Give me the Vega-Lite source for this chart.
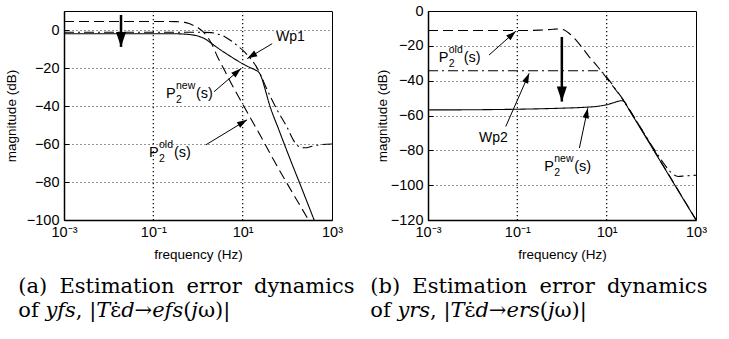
{
  "$schema": "https://vega.github.io/schema/vega-lite/v6.json",
  "background": "white",
  "padding": {"left": 3, "top": 2, "right": 5, "bottom": 0},
  "spacing": 96,
  "bounds": "flush",
  "datasets": {
    "curvesA": [
      {"s": "new", "f": 0.001, "db": -2.0}, {"s": "new", "f": 0.1, "db": -2.0}, {"s": "new", "f": 0.3162, "db": -2.0}, {"s": "new", "f": 0.5012, "db": -2.15}, {"s": "new", "f": 0.7079, "db": -2.5}, {"s": "new", "f": 1, "db": -3.2}, {"s": "new", "f": 1.413, "db": -4.6}, {"s": "new", "f": 2.042, "db": -7.2}, {"s": "new", "f": 3.162, "db": -10.4}, {"s": "new", "f": 4.898, "db": -13.3}, {"s": "new", "f": 7.079, "db": -15.7}, {"s": "new", "f": 10, "db": -17.8}, {"s": "new", "f": 14.13, "db": -19.6}, {"s": "new", "f": 19.05, "db": -21}, {"s": "new", "f": 23.44, "db": -22.5}, {"s": "new", "f": 26.92, "db": -25.5}, {"s": "new", "f": 31.62, "db": -31}, {"s": "new", "f": 38.9, "db": -38.5}, {"s": "new", "f": 64.57, "db": -52.5}, {"s": "new", "f": 120.2, "db": -69}, {"s": "new", "f": 199.5, "db": -82}, {"s": "new", "f": 398.1, "db": -100}, {"s": "new", "f": 501.2, "db": -106},
      {"s": "old", "f": 0.001, "db": 4.5}, {"s": "old", "f": 0.1, "db": 4.5}, {"s": "old", "f": 0.3162, "db": 4.4}, {"s": "old", "f": 0.5012, "db": 4.0}, {"s": "old", "f": 0.631, "db": 3.4}, {"s": "old", "f": 0.7943, "db": 2.4}, {"s": "old", "f": 1, "db": 1.2}, {"s": "old", "f": 1.259, "db": -0.6}, {"s": "old", "f": 1.479, "db": -2.4}, {"s": "old", "f": 1.995, "db": -7}, {"s": "old", "f": 2.661, "db": -13.5}, {"s": "old", "f": 3.981, "db": -21.5}, {"s": "old", "f": 5.754, "db": -28.8}, {"s": "old", "f": 10, "db": -39}, {"s": "old", "f": 15.49, "db": -47}, {"s": "old", "f": 26.92, "db": -57}, {"s": "old", "f": 45.71, "db": -67}, {"s": "old", "f": 100, "db": -81}, {"s": "old", "f": 199.5, "db": -93}, {"s": "old", "f": 316.2, "db": -101},
      {"s": "wp", "f": 0.001, "db": -1.2}, {"s": "wp", "f": 1, "db": -1.2}, {"s": "wp", "f": 1.995, "db": -1.4}, {"s": "wp", "f": 2.818, "db": -2.2}, {"s": "wp", "f": 3.981, "db": -3.5}, {"s": "wp", "f": 5.623, "db": -5.8}, {"s": "wp", "f": 7.943, "db": -8.6}, {"s": "wp", "f": 10, "db": -10.6}, {"s": "wp", "f": 12.59, "db": -13}, {"s": "wp", "f": 15.85, "db": -15.8}, {"s": "wp", "f": 19.95, "db": -19}, {"s": "wp", "f": 25.12, "db": -23.5}, {"s": "wp", "f": 33.11, "db": -30}, {"s": "wp", "f": 44.67, "db": -36.5}, {"s": "wp", "f": 58.88, "db": -42}, {"s": "wp", "f": 97.72, "db": -51}, {"s": "wp", "f": 141.3, "db": -58.5}, {"s": "wp", "f": 182, "db": -61.3}, {"s": "wp", "f": 251.2, "db": -62}, {"s": "wp", "f": 354.8, "db": -61.2}, {"s": "wp", "f": 562.3, "db": -60.3}, {"s": "wp", "f": 1000, "db": -60}
    ],
    "curvesB": [
      {"s": "new", "f": 0.001, "db": -56.8}, {"s": "new", "f": 0.01, "db": -56.7}, {"s": "new", "f": 0.1, "db": -56.4}, {"s": "new", "f": 1, "db": -55.8}, {"s": "new", "f": 3.162, "db": -55.3}, {"s": "new", "f": 6.31, "db": -54.7}, {"s": "new", "f": 10, "db": -53.8}, {"s": "new", "f": 14.13, "db": -52.7}, {"s": "new", "f": 17.78, "db": -51.9}, {"s": "new", "f": 21.38, "db": -51.5}, {"s": "new", "f": 24.55, "db": -51.9}, {"s": "new", "f": 27.54, "db": -54}, {"s": "new", "f": 39.81, "db": -60.8}, {"s": "new", "f": 100, "db": -77.7}, {"s": "new", "f": 316.2, "db": -98.9}, {"s": "new", "f": 1000, "db": -120},
      {"s": "old", "f": 0.001, "db": -11.2}, {"s": "old", "f": 0.1, "db": -11.2}, {"s": "old", "f": 0.3162, "db": -11.0}, {"s": "old", "f": 0.631, "db": -10.5}, {"s": "old", "f": 0.8913, "db": -10.3}, {"s": "old", "f": 1.122, "db": -10.9}, {"s": "old", "f": 1.413, "db": -12.6}, {"s": "old", "f": 1.995, "db": -16.3}, {"s": "old", "f": 2.818, "db": -21}, {"s": "old", "f": 3.981, "db": -26}, {"s": "old", "f": 6.31, "db": -32}, {"s": "old", "f": 10, "db": -38.5}, {"s": "old", "f": 15.85, "db": -45.2}, {"s": "old", "f": 22.39, "db": -50.3}, {"s": "old", "f": 28.18, "db": -54}, {"s": "old", "f": 39.81, "db": -60.3}, {"s": "old", "f": 100, "db": -77.3}, {"s": "old", "f": 316.2, "db": -98.6}, {"s": "old", "f": 1000, "db": -119.8},
      {"s": "wp", "f": 0.001, "db": -34.3}, {"s": "wp", "f": 6.31, "db": -34.3}, {"s": "wp", "f": 7.943, "db": -35.2}, {"s": "wp", "f": 10, "db": -38}, {"s": "wp", "f": 12.59, "db": -41.3}, {"s": "wp", "f": 15.85, "db": -45}, {"s": "wp", "f": 22.39, "db": -50.2}, {"s": "wp", "f": 31.62, "db": -56.5}, {"s": "wp", "f": 50.12, "db": -64.5}, {"s": "wp", "f": 79.43, "db": -72.8}, {"s": "wp", "f": 125.9, "db": -80.8}, {"s": "wp", "f": 199.5, "db": -88.3}, {"s": "wp", "f": 263, "db": -92.2}, {"s": "wp", "f": 316.2, "db": -94}, {"s": "wp", "f": 398.1, "db": -95}, {"s": "wp", "f": 562.3, "db": -94.7}, {"s": "wp", "f": 1000, "db": -94.3}
    ],
    "decades": [{"f": 0.1}, {"f": 10}],
    "arrowsA": [
      {"f": 45.7, "db": -7.2, "f2": 12.7, "db2": -15.0},
      {"f": 2.28, "db": -32.5, "f2": 9.16, "db2": -20.3},
      {"f": 1.51, "db": -60.4, "f2": 12.5, "db2": -47.3}
    ],
    "arrowsB": [
      {"f": 0.0232, "db": -25.3, "f2": 0.0925, "db2": -11.6},
      {"f": 0.0551, "db": -66.3, "f2": 0.184, "db2": -35.8},
      {"f": 2.45, "db": -78.7, "f2": 3.78, "db2": -55.8}
    ],
    "bigA": [{"f": 0.0189, "db": 7.9, "db2": -8.9}],
    "bigB": [{"f": 0.992, "db": -14.9, "db2": -52}],
    "labelsA": [
      {"f": 0.192, "db": -36, "sup": "new"},
      {"f": 0.080, "db": -67, "sup": "old"}
    ],
    "labelsB": [
      {"f": 0.00174, "db": -29.1, "sup": "old"},
      {"f": 0.401, "db": -92, "sup": "new"}
    ],
    "wpA": [{"f": 55.7, "db": -6, "t": "Wp1"}],
    "wpB": [{"f": 0.0138, "db": -75.2, "t": "Wp2"}]
  },
  "hconcat": [
    {
      "width": 268,
      "height": 209,
      "title": {"text": "(a)\u2004\u2005Estimation\u2004\u2005error\u2004\u2005dynamics", "subtitle": "of 𝑦𝑓𝑠, |𝑇ε̇𝑑→𝑒𝑓𝑠(𝑗ω)|", "dx": 14},
      "layer": [
        {
          "data": {"name": "decades"},
          "mark": {"type": "rule", "color": "#111111", "strokeWidth": 1.3, "strokeDash": [1.3, 2.7], "opacity": 1},
          "encoding": {
            "x": {"field": "f", "type": "quantitative", "title": "frequency (Hz)", "scale": {"type": "log", "domain": [0.001, 1000], "nice": false}}
          }
        },
        {
          "data": {"name": "curvesA"},
          "mark": {"type": "line", "color": "black", "strokeWidth": 1.1, "clip": true, "interpolate": "monotone"},
          "encoding": {
            "x": {"field": "f", "type": "quantitative", "title": "frequency (Hz)", "scale": {"type": "log", "domain": [0.001, 1000], "nice": false}},
            "y": {"field": "db", "type": "quantitative", "title": "magnitude (dB)", "scale": {"domain": [-100, 10], "nice": false, "zero": false}, "axis": {"titlePadding": 8}},
            "strokeDash": {"field": "s", "type": "nominal", "scale": {"domain": ["new", "old", "wp"], "range": [[1, 0], [10, 5], [10, 4, 2, 4]]}, "legend": null},
            "detail": {"field": "s"}
          }
        },
        {
          "data": {"name": "arrowsA"},
          "mark": {"type": "rule", "color": "black", "strokeWidth": 1},
          "encoding": {
            "x": {"field": "f", "type": "quantitative", "title": "frequency (Hz)"},
            "y": {"field": "db", "type": "quantitative", "title": "magnitude (dB)"},
            "x2": {"field": "f2"}, "y2": {"field": "db2"}
          }
        },
        {
          "data": {"name": "arrowsA"},
          "transform": [{"calculate": "atan2((log(datum.f2) - log(datum.f)) / LN10 * 44.67, (datum.db2 - datum.db) * 1.91) * 180 / PI", "as": "ang"}],
          "mark": {"type": "point", "shape": "M0,0L-0.65,2L0.65,2Z", "filled": true, "size": 100, "color": "black", "opacity": 1, "strokeWidth": 0},
          "encoding": {
            "x": {"field": "f2", "type": "quantitative", "title": "frequency (Hz)"},
            "y": {"field": "db2", "type": "quantitative", "title": "magnitude (dB)"},
            "angle": {"field": "ang", "type": "quantitative", "scale": null}
          }
        },
        {
          "data": {"name": "bigA"},
          "mark": {"type": "rule", "color": "black", "strokeWidth": 2.5},
          "encoding": {
            "x": {"field": "f", "type": "quantitative", "title": "frequency (Hz)"},
            "y": {"field": "db", "type": "quantitative", "title": "magnitude (dB)"},
            "y2": {"field": "db2"}
          }
        },
        {
          "data": {"name": "bigA"},
          "mark": {"type": "point", "shape": "M0,0L-0.67,-2L0.67,-2Z", "filled": true, "size": 225, "color": "black", "opacity": 1, "strokeWidth": 0},
          "encoding": {
            "x": {"field": "f", "type": "quantitative", "title": "frequency (Hz)"},
            "y": {"field": "db2", "type": "quantitative", "title": "magnitude (dB)"}
          }
        },
        {
          "data": {"name": "labelsA"},
          "mark": {"type": "text", "text": "P", "align": "left", "baseline": "alphabetic", "fontSize": 14.5, "color": "black"},
          "encoding": {"x": {"field": "f", "type": "quantitative", "title": "frequency (Hz)"}, "y": {"field": "db", "type": "quantitative", "title": "magnitude (dB)"}}
        },
        {
          "data": {"name": "labelsA"},
          "mark": {"type": "text", "align": "left", "baseline": "alphabetic", "fontSize": 10.5, "dx": 10, "dy": -9, "color": "black"},
          "encoding": {"x": {"field": "f", "type": "quantitative", "title": "frequency (Hz)"}, "y": {"field": "db", "type": "quantitative", "title": "magnitude (dB)"}, "text": {"field": "sup"}}
        },
        {
          "data": {"name": "labelsA"},
          "mark": {"type": "text", "text": "2", "align": "left", "baseline": "alphabetic", "fontSize": 10.5, "dx": 10, "dy": 5, "color": "black"},
          "encoding": {"x": {"field": "f", "type": "quantitative", "title": "frequency (Hz)"}, "y": {"field": "db", "type": "quantitative", "title": "magnitude (dB)"}}
        },
        {
          "data": {"name": "labelsA"},
          "transform": [{"filter": "datum.sup == 'new'"}],
          "mark": {"type": "text", "text": "(s)", "align": "left", "baseline": "alphabetic", "fontSize": 14.5, "dx": 30, "color": "black"},
          "encoding": {"x": {"field": "f", "type": "quantitative", "title": "frequency (Hz)"}, "y": {"field": "db", "type": "quantitative", "title": "magnitude (dB)"}}
        },
        {
          "data": {"name": "labelsA"},
          "transform": [{"filter": "datum.sup == 'old'"}],
          "mark": {"type": "text", "text": "(s)", "align": "left", "baseline": "alphabetic", "fontSize": 14.5, "dx": 25, "color": "black"},
          "encoding": {"x": {"field": "f", "type": "quantitative", "title": "frequency (Hz)"}, "y": {"field": "db", "type": "quantitative", "title": "magnitude (dB)"}}
        },
        {
          "data": {"name": "wpA"},
          "mark": {"type": "text", "align": "left", "baseline": "alphabetic", "fontSize": 14, "color": "black"},
          "encoding": {"x": {"field": "f", "type": "quantitative", "title": "frequency (Hz)"}, "y": {"field": "db", "type": "quantitative", "title": "magnitude (dB)"}, "text": {"field": "t"}}
        }
      ]
    },
    {
      "width": 268,
      "height": 209,
      "title": {"text": "(b)\u2004\u2005Estimation\u2004\u2005error\u2004\u2005dynamics", "subtitle": "of 𝑦𝑟𝑠, |𝑇ε̇𝑑→𝑒𝑟𝑠(𝑗ω)|", "dx": -5},
      "layer": [
        {
          "data": {"name": "decades"},
          "mark": {"type": "rule", "color": "#111111", "strokeWidth": 1.3, "strokeDash": [1.3, 2.7], "opacity": 1},
          "encoding": {
            "x": {"field": "f", "type": "quantitative", "title": "frequency (Hz)", "scale": {"type": "log", "domain": [0.001, 1000], "nice": false}}
          }
        },
        {
          "data": {"name": "curvesB"},
          "mark": {"type": "line", "color": "black", "strokeWidth": 1.1, "clip": true, "interpolate": "monotone"},
          "encoding": {
            "x": {"field": "f", "type": "quantitative", "title": "frequency (Hz)", "scale": {"type": "log", "domain": [0.001, 1000], "nice": false}},
            "y": {"field": "db", "type": "quantitative", "title": "magnitude (dB)", "scale": {"domain": [-120, 0], "nice": false, "zero": false}, "axis": {"titlePadding": 1}},
            "strokeDash": {"field": "s", "type": "nominal", "scale": {"domain": ["new", "old", "wp"], "range": [[1, 0], [10, 5], [10, 4, 2, 4]]}, "legend": null},
            "detail": {"field": "s"}
          }
        },
        {
          "data": {"name": "arrowsB"},
          "mark": {"type": "rule", "color": "black", "strokeWidth": 1},
          "encoding": {
            "x": {"field": "f", "type": "quantitative", "title": "frequency (Hz)"},
            "y": {"field": "db", "type": "quantitative", "title": "magnitude (dB)"},
            "x2": {"field": "f2"}, "y2": {"field": "db2"}
          }
        },
        {
          "data": {"name": "arrowsB"},
          "transform": [{"calculate": "atan2((log(datum.f2) - log(datum.f)) / LN10 * 44.45, (datum.db2 - datum.db) * 1.745) * 180 / PI", "as": "ang"}],
          "mark": {"type": "point", "shape": "M0,0L-0.65,2L0.65,2Z", "filled": true, "size": 100, "color": "black", "opacity": 1, "strokeWidth": 0},
          "encoding": {
            "x": {"field": "f2", "type": "quantitative", "title": "frequency (Hz)"},
            "y": {"field": "db2", "type": "quantitative", "title": "magnitude (dB)"},
            "angle": {"field": "ang", "type": "quantitative", "scale": null}
          }
        },
        {
          "data": {"name": "bigB"},
          "mark": {"type": "rule", "color": "black", "strokeWidth": 2.5},
          "encoding": {
            "x": {"field": "f", "type": "quantitative", "title": "frequency (Hz)"},
            "y": {"field": "db", "type": "quantitative", "title": "magnitude (dB)"},
            "y2": {"field": "db2"}
          }
        },
        {
          "data": {"name": "bigB"},
          "mark": {"type": "point", "shape": "M0,0L-0.67,-2L0.67,-2Z", "filled": true, "size": 225, "color": "black", "opacity": 1, "strokeWidth": 0},
          "encoding": {
            "x": {"field": "f", "type": "quantitative", "title": "frequency (Hz)"},
            "y": {"field": "db2", "type": "quantitative", "title": "magnitude (dB)"}
          }
        },
        {
          "data": {"name": "labelsB"},
          "mark": {"type": "text", "text": "P", "align": "left", "baseline": "alphabetic", "fontSize": 14.5, "color": "black"},
          "encoding": {"x": {"field": "f", "type": "quantitative", "title": "frequency (Hz)"}, "y": {"field": "db", "type": "quantitative", "title": "magnitude (dB)"}}
        },
        {
          "data": {"name": "labelsB"},
          "mark": {"type": "text", "align": "left", "baseline": "alphabetic", "fontSize": 10.5, "dx": 10, "dy": -9, "color": "black"},
          "encoding": {"x": {"field": "f", "type": "quantitative", "title": "frequency (Hz)"}, "y": {"field": "db", "type": "quantitative", "title": "magnitude (dB)"}, "text": {"field": "sup"}}
        },
        {
          "data": {"name": "labelsB"},
          "mark": {"type": "text", "text": "2", "align": "left", "baseline": "alphabetic", "fontSize": 10.5, "dx": 10, "dy": 5, "color": "black"},
          "encoding": {"x": {"field": "f", "type": "quantitative", "title": "frequency (Hz)"}, "y": {"field": "db", "type": "quantitative", "title": "magnitude (dB)"}}
        },
        {
          "data": {"name": "labelsB"},
          "transform": [{"filter": "datum.sup == 'new'"}],
          "mark": {"type": "text", "text": "(s)", "align": "left", "baseline": "alphabetic", "fontSize": 14.5, "dx": 30, "color": "black"},
          "encoding": {"x": {"field": "f", "type": "quantitative", "title": "frequency (Hz)"}, "y": {"field": "db", "type": "quantitative", "title": "magnitude (dB)"}}
        },
        {
          "data": {"name": "labelsB"},
          "transform": [{"filter": "datum.sup == 'old'"}],
          "mark": {"type": "text", "text": "(s)", "align": "left", "baseline": "alphabetic", "fontSize": 14.5, "dx": 25, "color": "black"},
          "encoding": {"x": {"field": "f", "type": "quantitative", "title": "frequency (Hz)"}, "y": {"field": "db", "type": "quantitative", "title": "magnitude (dB)"}}
        },
        {
          "data": {"name": "wpB"},
          "mark": {"type": "text", "align": "left", "baseline": "alphabetic", "fontSize": 14, "color": "black"},
          "encoding": {"x": {"field": "f", "type": "quantitative", "title": "frequency (Hz)"}, "y": {"field": "db", "type": "quantitative", "title": "magnitude (dB)"}, "text": {"field": "t"}}
        }
      ]
    }
  ],
  "config": {
    "font": "Liberation Sans",
    "view": {"stroke": "black", "strokeWidth": 1},
    "axis": {
      "domainColor": "black", "domainWidth": 1.5,
      "tickColor": "black", "tickSize": -5, "tickWidth": 1,
      "labelColor": "black", "labelFont": "Liberation Sans", "labelFontSize": 14.5, "labelPadding": 10, "labelOverlap": false, "labelFlush": false,
      "titleFont": "Liberation Sans", "titleFontSize": 13.5, "titleFontWeight": "normal", "titleColor": "black",
      "grid": true, "gridColor": "black", "gridDash": [1, 3], "gridWidth": 1, "gridOpacity": 0.85
    },
    "axisX": {
      "grid": false,
      "labelExpr": "abs(log(datum.value) / LN10 + 3) < 1e-6 ? '10⁻³' : abs(log(datum.value) / LN10 + 1) < 1e-6 ? '10⁻¹' : abs(log(datum.value) / LN10 - 1) < 1e-6 ? '10¹' : abs(log(datum.value) / LN10 - 3) < 1e-6 ? '10³' : ''",
      "tickOpacity": {"condition": {"test": "abs(log(datum.value) / LN10 - round(log(datum.value) / LN10)) < 1e-6", "value": 1}, "value": 0},
      "titlePadding": 9
    },
    "axisY": {"tickCount": 6},
    "title": {
      "orient": "bottom", "anchor": "start", "frame": "bounds",
      "font": "DejaVu Serif", "fontSize": 21, "fontWeight": "normal", "color": "black",
      "subtitleFont": "DejaVu Serif", "subtitleFontSize": 21, "subtitleColor": "black", "subtitlePadding": 0,
      "offset": 15
    }
  }
}
